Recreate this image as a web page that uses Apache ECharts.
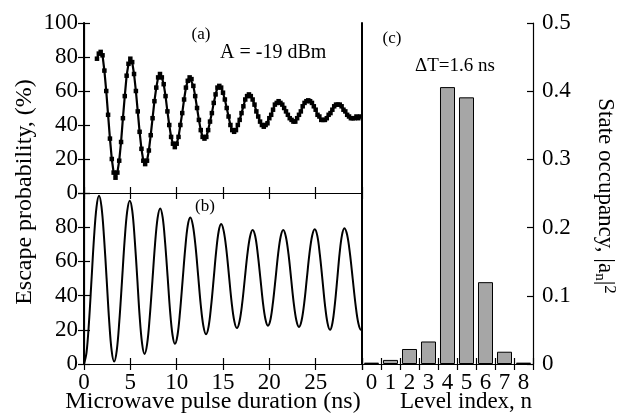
<!DOCTYPE html>
<html><head><meta charset="utf-8">
<script src="https://cdn.jsdelivr.net/npm/echarts@6/dist/echarts.min.js"></script>
<style>html,body{margin:0;padding:0;background:#fff}#c{width:636px;height:418px}</style>
</head><body><div id="c"></div>
<script>
// Panel (a): measured escape probability (%) vs pulse duration (ns)
const timeA = [1.4,1.6,1.8,2.0,2.2,2.4,2.6,2.8,3.0,3.2,3.4,3.6,3.8,4.0,4.2,4.4,4.6,4.8,5.0,5.2,5.4,5.6,5.8,6.0,6.2,6.4,6.6,6.8,7.0,7.2,7.4,7.6,7.8,8.0,8.2,8.4,8.6,8.8,9.0,9.2,9.4,9.6,9.8,10.0,10.2,10.4,10.6,10.8,11.0,11.2,11.4,11.6,11.8,12.0,12.2,12.4,12.6,12.8,13.0,13.2,13.4,13.6,13.8,14.0,14.2,14.4,14.6,14.8,15.0,15.2,15.4,15.6,15.8,16.0,16.2,16.4,16.6,16.8,17.0,17.2,17.4,17.6,17.8,18.0,18.2,18.4,18.6,18.8,19.0,19.2,19.4,19.6,19.8,20.0,20.2,20.4,20.6,20.8,21.0,21.2,21.4,21.6,21.8,22.0,22.2,22.4,22.6,22.8,23.0,23.2,23.4,23.6,23.8,24.0,24.2,24.4,24.6,24.8,25.0,25.2,25.4,25.6,25.8,26.0,26.2,26.4,26.6,26.8,27.0,27.2,27.4,27.6,27.8,28.0,28.2,28.4,28.6,28.8,29.0,29.2,29.4,29.6,29.8];
const probA = [79,82,83,81,72,60,46,32,20,12,9,12,19,30,44,57,69,76,79,77,70,60,48,36,26,19,17,19,25,34,44,54,62,68,70,68,64,57,48,40,33,29,27,29,33,40,47,55,62,66,68,67,63,57,50,43,37,33,32,33,37,42,47,53,58,62,63,62,59,55,50,45,40,37,36,37,40,43,47,51,55,57,58,57,55,52,48,45,42,40,39,40,41,44,46,49,52,53,54,53,52,50,48,46,44,43,42,42,44,46,48,51,53,54,54.5,54,53,51,49,46,45,43,43,43,44,46,47,49,51,52,52,52,51,49,48,46,45,44,44,44,45,44,45];
// Panel (b): calculated escape probability (%)
const timeB = [0,0.27,0.54,0.81,1.08,1.35,1.62,1.89,2.16,2.44,2.71,2.98,3.25,3.53,3.81,4.10,4.38,4.66,4.94,5.21,5.47,5.74,6.00,6.27,6.53,6.81,7.09,7.38,7.66,7.94,8.22,8.49,8.75,9.02,9.28,9.55,9.81,10.09,10.36,10.64,10.92,11.19,11.47,11.75,12.04,12.32,12.60,12.89,13.17,13.44,13.71,13.99,14.26,14.53,14.80,15.08,15.37,15.65,15.93,16.22,16.50,16.78,17.07,17.35,17.63,17.92,18.20,18.48,18.75,19.03,19.30,19.58,19.85,20.13,20.40,20.68,20.95,21.23,21.50,21.78,22.07,22.35,22.63,22.92,23.20,23.48,23.77,24.05,24.33,24.62,24.90,25.18,25.45,25.73,26.00,26.28,26.55,26.81,27.07,27.33,27.58,27.84,28.10,28.40,28.70,29.00,29.30,29.60,29.90,30.00];
const probB = [0,6.6,24.6,49.2,73.8,91.8,98.4,91.9,74.2,49.9,25.7,7.9,1.4,7.7,24.9,48.5,72.0,89.2,95.5,89.5,73.1,50.7,28.3,11.9,5.9,11.6,27.2,48.5,69.7,85.3,91.0,85.7,71.2,51.4,31.6,17.1,11.8,16.8,30.3,48.8,67.3,80.8,85.7,81.1,68.6,51.6,34.5,22.0,17.4,21.7,33.5,49.6,65.7,77.5,81.8,77.7,66.6,51.4,36.2,25.1,21.0,24.9,35.4,49.7,64.1,74.6,78.4,74.7,64.4,50.4,36.4,26.2,22.4,26.2,36.4,50.4,64.4,74.7,78.4,74.6,64.2,50.0,35.8,25.4,21.6,25.4,35.9,50.2,64.5,75.0,78.8,74.9,64.1,49.4,34.7,23.9,20.0,24.0,34.9,49.7,64.6,75.4,79.4,75.4,64.6,49.7,34.9,24.0,20.0,20.2];
// Panel (c): state occupancy
const levels = ['0','1','2','3','4','5','6','7','8'];
const occupancy = [0.002,0.006,0.022,0.033,0.406,0.391,0.120,0.018,0.002];

const FF = '"Liberation Serif","Times New Roman",serif';
const chart = echarts.init(document.getElementById('c'), null, {renderer:'canvas'});
const line = (w) => ({show:true, lineStyle:{color:'#000', width:w}});
const tick = (show) => ({show:show, inside:true, length:6, lineStyle:{color:'#000', width:1.2}});
const lab = (show, fmt, margin) => ({show:show, color:'#000', fontSize:23, fontFamily:FF, margin:margin||7, formatter:fmt});

chart.setOption({
  animation:false,
  backgroundColor:'#fff',
  grid:[
    {left:84, top:23, width:278, height:170},
    {left:84, top:193, width:278, height:171},
    {left:362, top:23, width:171, height:341}
  ],
  xAxis:[
    {gridIndex:0, type:'value', min:0, max:30, interval:5, position:'bottom', axisLine:line(1.2), axisTick:tick(true), axisLabel:lab(false), splitLine:{show:false}},
    {gridIndex:0, type:'value', min:0, max:30, interval:5, position:'top', axisLine:line(1.2), axisTick:tick(true), axisLabel:lab(false), splitLine:{show:false}},
    {gridIndex:1, type:'value', min:0, max:30, interval:5, position:'bottom', axisLine:line(1.2), axisTick:tick(true), axisLabel:lab(true, v => v===30?'':String(v), 7), splitLine:{show:false}},
    {gridIndex:1, type:'value', min:0, max:30, interval:5, position:'top', axisLine:line(1.2), axisTick:tick(true), axisLabel:lab(false), splitLine:{show:false}},
    {gridIndex:2, type:'category', data:levels, position:'bottom', boundaryGap:true, axisLine:line(1.2), axisTick:tick(true), axisLabel:lab(true, null, 7), splitLine:{show:false}},
    {gridIndex:2, type:'category', data:levels, position:'top', boundaryGap:true, axisLine:line(1.2), axisTick:tick(true), axisLabel:lab(false), splitLine:{show:false}}
  ],
  yAxis:[
    {gridIndex:0, type:'value', min:0, max:100, interval:20, position:'left', axisLine:line(1.2), axisTick:tick(true), axisLabel:lab(true, null, 6), splitLine:{show:false}},
    {gridIndex:0, type:'value', min:0, max:100, interval:20, position:'right', axisLine:line(2), axisTick:tick(true), axisLabel:lab(false), splitLine:{show:false}},
    {gridIndex:1, type:'value', min:0, max:100, interval:20, position:'left', axisLine:line(1.2), axisTick:tick(true), axisLabel:lab(true, v => v===100?'':String(v), 6), splitLine:{show:false}},
    {gridIndex:1, type:'value', min:0, max:100, interval:20, position:'right', axisLine:line(2), axisTick:tick(true), axisLabel:lab(false), splitLine:{show:false}},
    {gridIndex:2, type:'value', min:0, max:0.5, interval:0.1, position:'right', axisLine:line(1.2), axisTick:tick(true), axisLabel:lab(true, v => v===0?'0':v.toFixed(1), 9), splitLine:{show:false}},
    {gridIndex:2, type:'value', min:0, max:0.5, interval:0.1, position:'left', axisLine:line(2), axisTick:{show:false}, axisLabel:lab(false), splitLine:{show:false}}
  ],
  series:[
    {type:'line', xAxisIndex:0, yAxisIndex:0, data:timeA.map((t,i)=>[t, probA[i]]),
     symbol:'rect', symbolSize:4.5, showSymbol:true, itemStyle:{color:'#000'}, lineStyle:{color:'#000', width:2.2}},
    {type:'line', xAxisIndex:2, yAxisIndex:2, data:timeB.map((t,i)=>[t, probB[i]]),
     smooth:0.35, showSymbol:false, symbol:'none', lineStyle:{color:'#000', width:2}},
    {type:'bar', xAxisIndex:4, yAxisIndex:4, data:occupancy, barCategoryGap:'21%',
     itemStyle:{color:'#a6a6a6', borderColor:'#000', borderWidth:1}}
  ],
  graphic:[
    {type:'text', x:201, y:35, style:{text:'(a)', fontSize:17, fontFamily:FF, fill:'#000', align:'center', verticalAlign:'middle'}},
    {type:'text', x:220, y:53, style:{text:'A = -19 dBm', fontSize:20, fontFamily:FF, fill:'#000', align:'left', verticalAlign:'middle'}},
    {type:'text', x:205, y:207, style:{text:'(b)', fontSize:17, fontFamily:FF, fill:'#000', align:'center', verticalAlign:'middle'}},
    {type:'text', x:392, y:39, style:{text:'(c)', fontSize:17, fontFamily:FF, fill:'#000', align:'center', verticalAlign:'middle'}},
    {type:'text', x:415, y:66, style:{text:'\u0394T=1.6 ns', fontSize:19, fontFamily:FF, fill:'#000', align:'left', verticalAlign:'middle'}},
    {type:'text', x:25, y:192, rotation:Math.PI/2, style:{text:'Escape probability, (%)', fontSize:24, fontFamily:FF, fill:'#000', align:'center', verticalAlign:'middle'}},
    {type:'text', x:213, y:402, style:{text:'Microwave pulse duration (ns)', fontSize:24, fontFamily:FF, fill:'#000', align:'center', verticalAlign:'middle'}},
    {type:'text', x:466, y:402, style:{text:'Level index, n', fontSize:23, fontFamily:FF, fill:'#000', align:'center', verticalAlign:'middle'}},
    {type:'text', x:605, y:196, rotation:-Math.PI/2, style:{text:'State occupancy, |a{sub|n}|{sup|2}', fontSize:23, fontFamily:FF, fill:'#000', align:'center', verticalAlign:'middle',
      rich:{sub:{fontSize:15, fontFamily:FF, fill:'#000', padding:[10,0,0,0]}, sup:{fontSize:17, fontFamily:FF, fill:'#000', padding:[0,0,8,0]}}}}
  ]
});
</script>
</body></html>
